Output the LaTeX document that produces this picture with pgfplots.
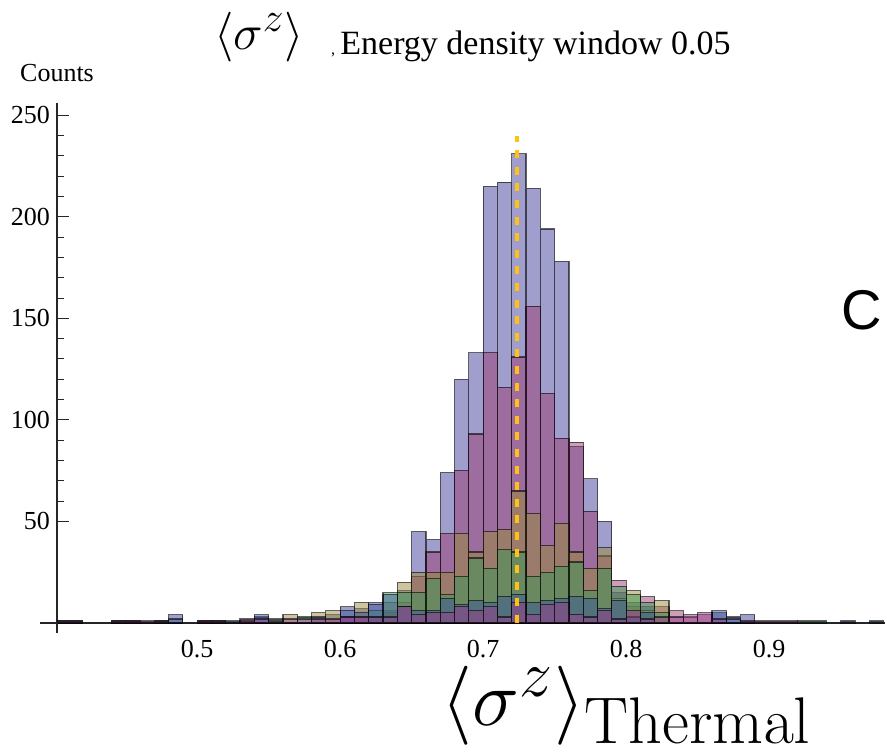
\documentclass[border=0pt]{standalone}
\usepackage[no-math]{fontspec}
\setmainfont{Liberation Serif}
\newfontfamily\sansC{Liberation Sans}
\usepackage{graphicx}
\usepackage{pgfplots}
\pgfplotsset{compat=1.18}
\definecolor{cA}{rgb}{0.247,0.24,0.6}
\definecolor{cB}{rgb}{0.6,0.24,0.443}
\definecolor{cC}{rgb}{0.6,0.547,0.24}
\definecolor{cD}{rgb}{0.24,0.6,0.337}
\definecolor{cE}{rgb}{0.24,0.353,0.6}
\definecolor{cF}{rgb}{0.6,0.24,0.564}
\definecolor{gold}{RGB}{255,194,14}
\pgfplotsset{histo/.style={ybar, bar width=0.01, bar shift=0pt, fill=#1, fill opacity=0.5, draw=black, draw opacity=0.6, line width=0.6pt}}
\begin{document}
\begin{tikzpicture}
\useasboundingbox (-28.5pt,-64pt) rectangle (415pt,311.5pt);
\begin{axis}[at={(0pt,0pt)}, anchor=south west, scale only axis,
  width=414pt, height=260pt,
  xmin=0.402, xmax=0.981, ymin=0, ymax=256,
  axis lines=left, axis line style={-, black!85, line width=0.6pt},
  xtick={0.5,0.6,0.7,0.8,0.9}, ytick={50,100,150,200,250},
  minor y tick num=4, tick align=inside,
  major tick length=6pt, minor tick length=3.5pt,
  x tick style={draw=none}, y tick style={black!85, line width=0.5pt},
  ticklabel style={font=\fontsize{13}{15}\selectfont},
  /pgf/number format/assume math mode=true,
  xticklabel style={yshift=-5pt},
  xticklabel={\pgfmathprintnumber[fixed,precision=1]{\tick}},
]
% Series A
\addplot[histo=cA] coordinates {(0.485,4) (0.545,3) (0.595,4) (0.605,8) (0.615,7) (0.625,10) (0.635,6) (0.645,16) (0.655,45) (0.665,41) (0.675,74) (0.685,120) (0.695,133) (0.705,215) (0.715,217) (0.725,231) (0.735,214) (0.745,194) (0.755,178) (0.765,87) (0.775,71) (0.785,50) (0.795,15) (0.805,10) (0.815,8) (0.865,5) (0.875,3) (0.885,4)};
% Series B
\addplot[histo=cB] coordinates {(0.455,1) (0.505,1) (0.535,2) (0.605,3) (0.615,3) (0.625,3) (0.635,5) (0.645,10) (0.655,23) (0.665,35) (0.675,44) (0.685,75) (0.695,93) (0.705,133) (0.715,116) (0.725,131) (0.735,156) (0.745,113) (0.755,91) (0.765,89) (0.775,55) (0.785,33) (0.795,21) (0.805,8) (0.815,13) (0.825,8) (0.835,6) (0.845,3) (0.855,4)};
% Series C
\addplot[histo=cC] coordinates {(0.445,1) (0.565,4) (0.585,5) (0.595,6) (0.615,10) (0.635,10) (0.645,20) (0.655,25) (0.665,25) (0.675,25) (0.685,44) (0.695,35) (0.705,45) (0.715,46) (0.725,65) (0.735,54) (0.745,38) (0.755,49) (0.765,35) (0.775,27) (0.785,37) (0.795,12) (0.805,16) (0.815,6) (0.825,11)};
% Series D
\addplot[histo=cD] coordinates {(0.475,1) (0.515,1) (0.555,2) (0.575,3) (0.625,6) (0.635,15) (0.645,15) (0.655,15) (0.665,22) (0.675,14) (0.685,23) (0.695,32) (0.705,27) (0.715,36) (0.725,35) (0.735,23) (0.745,25) (0.755,28) (0.765,30) (0.775,16) (0.785,27) (0.795,18) (0.805,14) (0.815,10) (0.825,5) (0.925,1) (0.935,1)};
% Series E
\addplot[histo=cE] coordinates {(0.405,1) (0.415,1) (0.485,2) (0.525,1) (0.545,4) (0.585,3) (0.605,6) (0.615,5) (0.625,9) (0.635,14) (0.645,8) (0.655,6) (0.665,6) (0.675,12) (0.685,9) (0.695,11) (0.705,10) (0.715,13) (0.725,14) (0.735,10) (0.745,11) (0.755,12) (0.765,13) (0.775,12) (0.785,7) (0.795,11) (0.805,3) (0.815,5) (0.865,6) (0.875,2) (0.955,1) (0.975,1)};
% Series F
\addplot[histo=cF] coordinates {(0.405,1) (0.415,1) (0.445,1) (0.455,1) (0.465,1) (0.475,1) (0.505,1) (0.515,1) (0.535,1) (0.545,2) (0.555,1) (0.565,2) (0.575,2) (0.585,2) (0.595,2) (0.605,3) (0.615,3) (0.625,3) (0.635,3) (0.645,8) (0.655,4) (0.665,5) (0.675,5) (0.685,8) (0.695,6) (0.705,8) (0.715,3) (0.725,10) (0.735,4) (0.745,9) (0.755,10) (0.765,4) (0.775,3) (0.785,6) (0.795,2) (0.805,6) (0.815,2) (0.825,3) (0.835,3) (0.845,4) (0.855,5) (0.865,2) (0.885,1) (0.895,1) (0.905,1) (0.915,1)};
% thermal value
\addplot[gold, line width=2pt, dash pattern=on 4pt off 4.3pt] coordinates {(0.7238,0) (0.7238,240)};
\end{axis}
\draw[black!85, line width=0.6pt] (0pt,0pt) -- (-8.5pt,0pt);
\draw[black!85, line width=0.6pt] (0pt,0pt) -- (0pt,-5pt);
\node at (101pt,293pt) {\Huge$\langle\sigma^z\rangle$};
\node[anchor=base] at (138pt,284pt) {\fontsize{8}{8}\selectfont,};
\node[anchor=base west, inner sep=0pt] at (141.5pt,284pt) {\fontsize{17}{20}\selectfont Energy density window 0.05};
\node at (0pt,275pt) {\fontsize{13}{15}\selectfont Counts};
\node at (402.5pt,156.5pt) {\fontsize{28}{32}\selectfont\sansC C};
\node[anchor=base, inner sep=0pt] at (285pt,-51pt) {\scalebox{1.59}{\Huge$\langle\sigma^z\rangle_{\mathrm{Thermal}}$}};
\end{tikzpicture}
\end{document}
